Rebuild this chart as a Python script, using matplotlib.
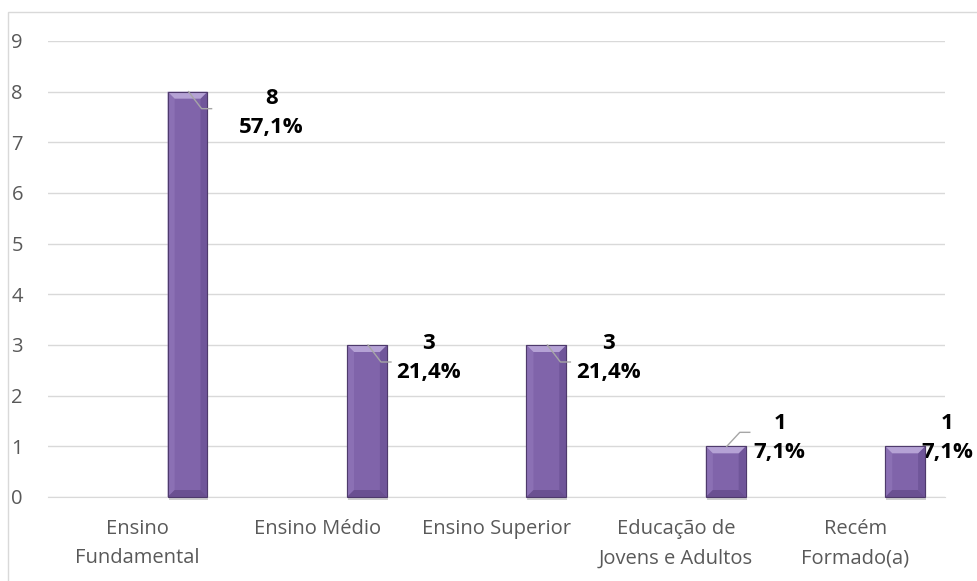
import matplotlib
matplotlib.use('Agg')
import matplotlib.pyplot as plt
from matplotlib.patches import Rectangle, Polygon
from matplotlib.lines import Line2D

# dados
categorias = ['Ensino\nFundamental', 'Ensino Médio', 'Ensino Superior',
              'Educação de\nJovens e Adultos', 'Recém\nFormado(a)']
valores = [8, 3, 3, 1, 1]
percentuais = ['57,1%', '21,4%', '21,4%', '7,1%', '7,1%']

plt.rcParams['font.family'] = ['Open Sans', 'DejaVu Sans']

fig = plt.figure(figsize=(9.77, 5.81), dpi=100)
W, H = 977, 581
ax = fig.add_axes([48 / W, 84 / H, 897 / W, 456 / H])

# borda externa do grafico
fig.add_artist(Rectangle((8 / W, -0.01), 1.0, (581 - 12) / H + 0.01, transform=fig.transFigure,
                         fill=False, edgecolor='#d9d9d9', lw=1))

x = list(range(len(valores)))
desloc = 0.278
larg = 0.222
barras = ax.bar([i + desloc for i in x], valores, width=larg, color='#8064aa',
                edgecolor='#4e3a6c', linewidth=0.8, zorder=3)

ax.set_xlim(-0.5, len(valores) - 0.5)
ax.set_ylim(0, 9)
ax.set_yticks(range(0, 10))
ax.yaxis.grid(True, color='#d9d9d9', lw=1)
ax.set_axisbelow(True)
for s in ['top', 'right', 'left']:
    ax.spines[s].set_visible(False)
ax.spines['bottom'].set_color('#d9d9d9')
ax.tick_params(axis='both', length=0, colors='#595959', labelsize=14.5)
ax.tick_params(axis='y', pad=18)
ax.tick_params(axis='x', pad=16)
ax.set_xticks(x)
ax.set_xticklabels(categorias, linespacing=1.6)

fig.canvas.draw()

# efeito de chanfro nas barras
for b in barras:
    (x0, y0), (x1, y1) = ax.transData.transform([(b.get_x(), 0), (b.get_x() + b.get_width(), b.get_height())])
    d = 7
    # sombra
    fig.add_artist(Rectangle((x0 + 1, y0 - 3), x1 - x0, 3, transform=None,
                             facecolor='#cfcfcf', edgecolor='none', zorder=2))
    fig.add_artist(Polygon([(x0, y1), (x0 + d, y1 - d), (x0 + d, y0 + d), (x0, y0)], closed=True,
                           transform=None, facecolor='#8b70b4', edgecolor='none', zorder=4))
    fig.add_artist(Polygon([(x1, y1), (x1 - d, y1 - d), (x1 - d, y0 + d), (x1, y0)], closed=True,
                           transform=None, facecolor='#70569a', edgecolor='none', zorder=4))
    fig.add_artist(Polygon([(x0, y0), (x0 + d, y0 + d), (x1 - d, y0 + d), (x1, y0)], closed=True,
                           transform=None, facecolor='#6a5091', edgecolor='none', zorder=4))
    fig.add_artist(Polygon([(x0, y1), (x1, y1), (x1 - d, y1 - d), (x0 + d, y1 - d)], closed=True,
                           transform=None, facecolor='#b5a2d5', edgecolor='none', zorder=4))
    fig.add_artist(Rectangle((x0, y0), x1 - x0, y1 - y0, transform=None, fill=False,
                             edgecolor='#4e3a6c', lw=0.8, zorder=5))

# rotulos de dados (deslocamento em pixels e tipo de linha guia)
offsets = [(84, -21, 1), (62, -13, 1), (62, -13, 1), (54, 8, -1), (42, 8, 0)]
for b, v, p, (dx, dy, lead) in zip(barras, valores, percentuais, offsets):
    xc = b.get_x() + b.get_width() / 2
    ax.annotate(f'{v}\n{p}', xy=(xc, v), xytext=(dx, dy),
                textcoords='offset pixels', ha='center', va='center', fontsize=16,
                fontweight='bold', color='black', linespacing=1.5, annotation_clip=False, zorder=6)
    px, py = ax.transData.transform((xc, v))
    if lead == 1:
        fig.add_artist(Line2D([px + 1, px + 14, px + 24], [py, py - 17, py - 17], transform=None,
                              color='#a6a6a6', lw=1, zorder=6))
    elif lead == -1:
        fig.add_artist(Line2D([px + 1, px + 14, px + 24], [py, py + 14, py + 14], transform=None,
                              color='#a6a6a6', lw=1, zorder=6))

fig.savefig('out.png', dpi=100)
